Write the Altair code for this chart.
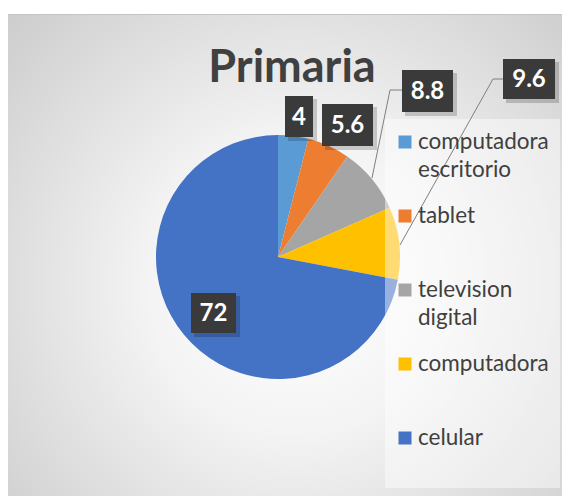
import altair as alt
import pandas as pd

# ---- data ----
categories = ["computadora escritorio", "tablet", "television digital", "computadora", "celular"]
values = [4, 5.6, 8.8, 9.6, 72]
colors = ["#5B9BD5", "#ED7D31", "#A5A5A5", "#FFC000", "#4472C4"]
legend_first = ["computadora", "tablet", "television", "computadora", "celular"]
legend_second = ["escritorio", "", "digital", "", ""]
label_texts = ["4", "5.6", "8.8", "9.6", "72"]
title_text = "Primaria"

# ---- layout (page pixels; chart origin is at page 8,8) ----
W, H = 554, 488
O = 8
pie_cx, pie_cy, pie_r = 278, 257, 122
label_boxes = [(285, 96, 313, 137), (322, 104, 373, 146), (402, 70, 453, 112),
               (503, 59, 555, 99), (191, 293, 236, 333)]
leader_paths = [(2, [(402, 90), (390, 90), (372, 178)]),
                (3, [(503, 79), (493, 79), (400, 245)])]

df = pd.DataFrame({"cat": categories, "value": values, "idx": range(len(values))})

lab = pd.DataFrame({
    "cat": categories,
    "text": label_texts,
    "x1": [b[0] - O for b in label_boxes],
    "y1": [b[1] - O for b in label_boxes],
    "x2": [b[2] - O for b in label_boxes],
    "y2": [b[3] - O for b in label_boxes],
})
lab["cx"] = (lab.x1 + lab.x2) / 2
lab["cy"] = (lab.y1 + lab.y2) / 2 + 1
lab["sx1"] = lab.x1 + 3
lab["sx2"] = lab.x2 + 4
lab["sy1"] = lab.y1 + 3
lab["sy2"] = lab.y2 + 4

rows = []
for i, pts in leader_paths:
    for k, (px, py) in enumerate(pts):
        rows.append({"line": i, "k": k, "px": px - O, "py": py - O})
lead = pd.DataFrame(rows)

leg = pd.DataFrame({"cat": categories, "l1": legend_first, "l2": legend_second})

XS = dict(scale=None, axis=None)

bg = alt.Chart(pd.DataFrame({"a": [0]})).mark_rect(
    fill=alt.Gradient(
        gradient="radial",
        x1=0.52, y1=0.55, r1=0.0, x2=0.52, y2=0.55, r2=0.75,
        stops=[alt.GradientStop(offset=0, color="#ffffff"),
               alt.GradientStop(offset=0.35, color="#f4f4f4"),
               alt.GradientStop(offset=1, color="#c9c9c9")],
    ),
    stroke="#c4c4c4", strokeWidth=1,
).encode(x=alt.value(-0.5), x2=alt.value(W + 2), y=alt.value(6.5), y2=alt.value(H + 2))

pie = alt.Chart(df).mark_arc(outerRadius=pie_r).encode(
    theta=alt.Theta("value:Q", stack=True),
    color=alt.Color("cat:N", scale=alt.Scale(domain=categories, range=colors), legend=None),
    order=alt.Order("idx:Q"),
    x=alt.value(pie_cx - O),
    y=alt.value(pie_cy - O),
)

legend_box = alt.Chart(pd.DataFrame({"a": [0]})).mark_rect(fill="#ffffff", opacity=0.45).encode(
    x=alt.value(385 - O), x2=alt.value(560 - O), y=alt.value(119 - O), y2=alt.value(488 - O)
)

leaders = alt.Chart(lead).mark_line(color="#7f7f7f", strokeWidth=1).encode(
    x=alt.X("px:Q", **XS), y=alt.Y("py:Q", **XS), detail="line:N", order="k:Q"
)

box_shadow = alt.Chart(lab).mark_rect(fill="#000000", opacity=0.18).encode(
    x=alt.X("sx1:Q", **XS), x2="sx2:Q", y=alt.Y("sy1:Q", **XS), y2="sy2:Q"
)
boxes = alt.Chart(lab).mark_rect(fill="#3a3a3a").encode(
    x=alt.X("x1:Q", **XS), x2="x2:Q", y=alt.Y("y1:Q", **XS), y2="y2:Q"
)
box_text = alt.Chart(lab).mark_text(
    font="Lato", fontSize=24, fontWeight="bold", color="#ffffff", baseline="middle", align="center"
).encode(x=alt.X("cx:Q", **XS), y=alt.Y("cy:Q", **XS), text="text:N")

yleg = alt.Y("cat:N", scale=alt.Scale(domain=categories, range=[142 - O, 438 - O], padding=0), axis=None)
leg_sq = alt.Chart(leg).mark_square(size=169, opacity=1).encode(
    x=alt.value(405 - O), y=yleg,
    color=alt.Color("cat:N", scale=alt.Scale(domain=categories, range=colors), legend=None),
)
leg_t1 = alt.Chart(leg).mark_text(
    font="Lato", fontSize=22.5, color="#404040", align="left", baseline="middle"
).encode(x=alt.value(418 - O), y=yleg, text="l1:N")
leg_t2 = alt.Chart(leg).mark_text(
    font="Lato", fontSize=22.5, color="#404040", align="left", baseline="middle", dy=28
).encode(x=alt.value(418 - O), y=yleg, text="l2:N")

title = alt.Chart(pd.DataFrame({"t": [title_text]})).mark_text(
    font="Lato", fontSize=45, fontWeight="bold", color="#404040", align="center", baseline="alphabetic"
).encode(x=alt.value(292 - O), y=alt.value(82 - O), text="t:N")

chart = alt.layer(
    bg, pie, legend_box, leaders, box_shadow, boxes, box_text,
    leg_sq, leg_t1, leg_t2, title
).properties(
    width=W, height=H, padding=0, autosize=alt.AutoSizeParams(type="none"), background="#ffffff"
).configure_view(stroke=None)

chart.save("out.html", embed_options={"renderer": "svg", "actions": False})
